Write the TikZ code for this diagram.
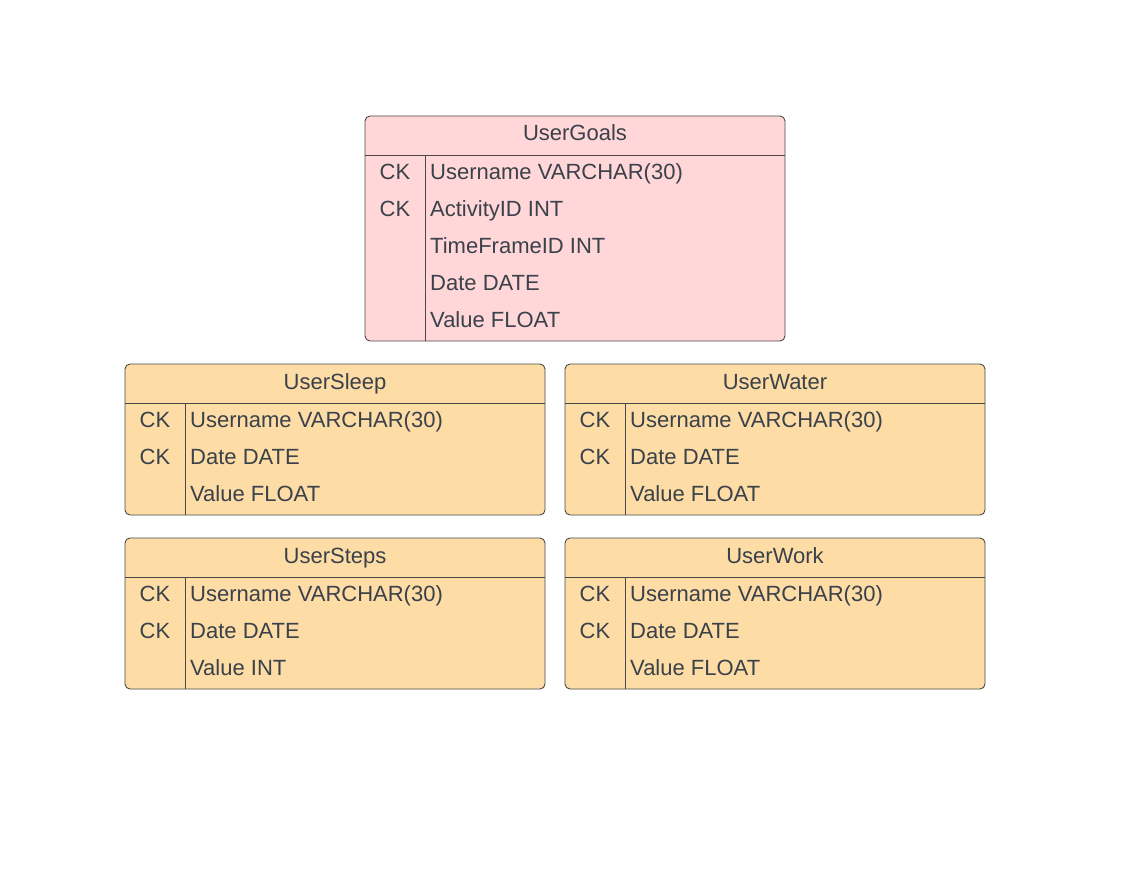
\documentclass[tikz,border=0pt]{standalone}
\usepackage{fontspec}
\setmainfont{Liberation Sans}
\definecolor{pinkfill}{HTML}{FFD7D9}
\definecolor{orangefill}{HTML}{FDDCA5}
\definecolor{txt}{HTML}{3A414A}
\definecolor{edge}{HTML}{4A4A4A}
\tikzset{
  tbl/.style={draw=edge, line width=0.9pt, rounded corners=5pt},
  sep/.style={draw=edge, line width=0.9pt},
  lbl/.style={font=\fontsize{22}{26}\selectfont, text=txt, inner sep=0pt},
  ttl/.style={lbl, anchor=base},
  key/.style={lbl, anchor=base},
  fld/.style={lbl, anchor=base west},
}
% #1 name, #2 x1, #3 y1, #4 x2, #5 y2, #6 colour, #7 title
\newcommand{\ertable}[7]{%
  \fill[#6, rounded corners=5pt] (#2,#3) rectangle (#4,#5);
  \draw[tbl] (#2,#3) rectangle (#4,#5);
  \draw[sep] (#2,#3+39) -- (#4,#3+39);
  \draw[sep] (#2+60,#3+39) -- (#2+60,#5);
  \node[ttl] (#1-title) at ({(#2+#4)/2},#3+25) {#7};
}
% #1 name, #2 x1, #3 baseline y, #4 key, #5 field
\newcommand{\errow}[5]{%
  \node[key] (#1-k) at (#2+30,#3) {#4};
  \node[fld] (#1-f) at (#2+65,#3) {#5};
}
\begin{document}
\begin{tikzpicture}[x=1pt,y=-1pt]
\useasboundingbox (0,0) rectangle (1127,888);
\fill[white] (0,0) rectangle (1127,888);

% UserGoals
\ertable{goals}{365}{116}{785}{341}{pinkfill}{UserGoals}
\errow{goals1}{365}{179}{CK}{Username VARCHAR(30)}
\errow{goals2}{365}{216}{CK}{ActivityID INT}
\errow{goals3}{365}{253}{}{TimeFrameID INT}
\errow{goals4}{365}{290}{}{Date DATE}
\errow{goals5}{365}{327}{}{Value FLOAT}

% UserSleep
\ertable{sleep}{125}{364}{545}{515}{orangefill}{UserSleep}
\errow{sleep1}{125}{427}{CK}{Username VARCHAR(30)}
\errow{sleep2}{125}{464}{CK}{Date DATE}
\errow{sleep3}{125}{501}{}{Value FLOAT}

% UserWater
\ertable{water}{565}{364}{985}{515}{orangefill}{UserWater}
\errow{water1}{565}{427}{CK}{Username VARCHAR(30)}
\errow{water2}{565}{464}{CK}{Date DATE}
\errow{water3}{565}{501}{}{Value FLOAT}

% UserSteps
\ertable{steps}{125}{538}{545}{689}{orangefill}{UserSteps}
\errow{steps1}{125}{601}{CK}{Username VARCHAR(30)}
\errow{steps2}{125}{638}{CK}{Date DATE}
\errow{steps3}{125}{675}{}{Value INT}

% UserWork
\ertable{work}{565}{538}{985}{689}{orangefill}{UserWork}
\errow{work1}{565}{601}{CK}{Username VARCHAR(30)}
\errow{work2}{565}{638}{CK}{Date DATE}
\errow{work3}{565}{675}{}{Value FLOAT}
\end{tikzpicture}
\end{document}
